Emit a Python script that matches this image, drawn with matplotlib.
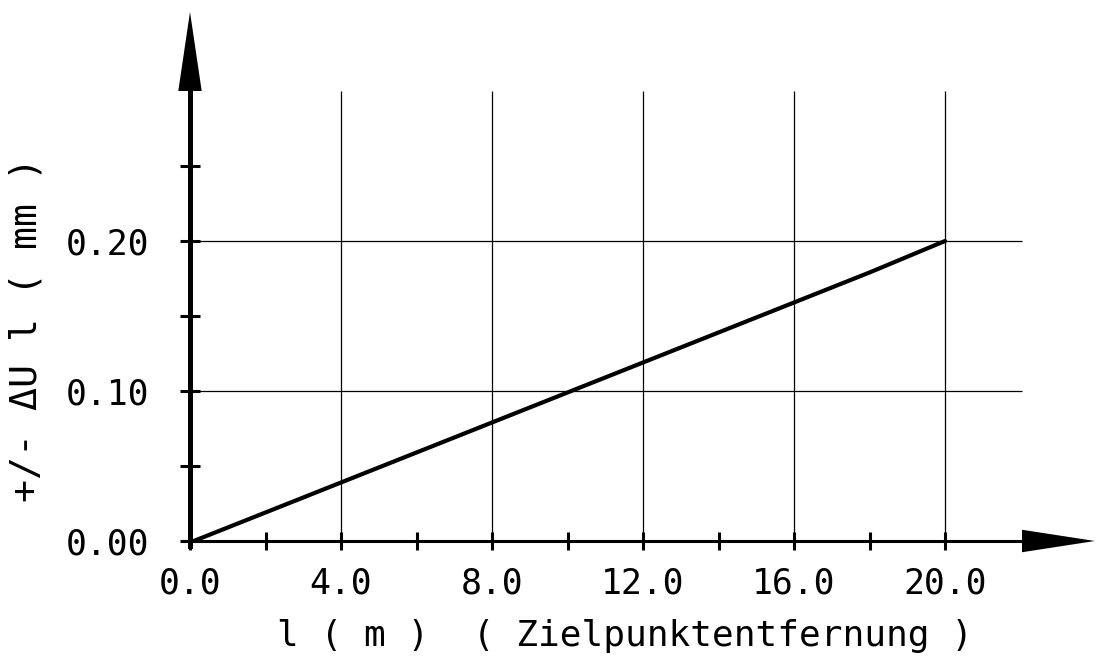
import matplotlib
matplotlib.use("Agg")
import matplotlib.pyplot as plt
from matplotlib.ticker import FixedLocator

# data
distance_m = [0.1, 2.0, 4.0, 6.0, 8.0, 10.0, 12.0, 14.0, 16.0, 18.0, 20.0]
delta_ul_mm = [0.0, 0.019, 0.039, 0.059, 0.079, 0.099, 0.119, 0.139, 0.159, 0.179, 0.200]
x_major = [0, 4, 8, 12, 16, 20]
x_labels = ["0.0", "4.0", "8.0", "12.0", "16.0", "20.0"]
y_major = [0.0, 0.10, 0.20]
y_labels = ["0.00", "0.10", "0.20"]

W, H = 1096, 660
fig = plt.figure(figsize=(W / 100, H / 100), dpi=100)

# pixel geometry
x0px, xscale = 190.0, 37.75
y0px, yscale = 541.0, 1500.0
ax_left_px, ax_bottom_px = 150.0, 560.0
ax = fig.add_axes([ax_left_px / W, (H - ax_bottom_px) / H, (W - ax_left_px) / W, ax_bottom_px / H])
ax.set_xlim((ax_left_px - x0px) / xscale, (W - x0px) / xscale)
ax.set_ylim((y0px - ax_bottom_px) / yscale, y0px / yscale)
ax.patch.set_alpha(0)

mono = "DejaVu Sans Mono"

# grid
for gy in [0.10, 0.20]:
    ax.hlines(gy, 0, 22.05, color="black", lw=0.9, zorder=1)
for gx in [4, 8, 12, 16, 20]:
    ax.vlines(gx, 0, 0.30, color="black", lw=0.9, zorder=1)

# spines as axes
for s in ["top", "right"]:
    ax.spines[s].set_visible(False)
ax.spines["left"].set_position(("data", 0))
ax.spines["bottom"].set_position(("data", 0))
ax.spines["left"].set_linewidth(3.6)
ax.spines["bottom"].set_linewidth(2.2)
ax.spines["left"].set_bounds(-0.003, 0.305)
ax.spines["bottom"].set_bounds(-0.2, 22.1)

# arrow heads
ax.fill([-0.31, 0.0, 0.31], [0.300, 0.3527, 0.300], color="black", zorder=5, lw=0)
ax.fill([22.04, 23.97, 22.04], [0.0075, 0.0, -0.0075], color="black", zorder=5, lw=0)

# ticks
ax.xaxis.set_major_locator(FixedLocator(x_major))
ax.xaxis.set_minor_locator(FixedLocator([2, 6, 10, 14, 18]))
ax.yaxis.set_major_locator(FixedLocator(y_major))
ax.yaxis.set_minor_locator(FixedLocator([0.05, 0.15, 0.25]))
ax.set_xticklabels(x_labels, fontfamily=mono, fontsize=25)
ax.set_yticklabels(y_labels, fontfamily=mono, fontsize=25)
ax.tick_params(axis="x", which="both", direction="inout", length=13, width=2.2, pad=12)
ax.tick_params(axis="y", which="both", direction="inout", length=15, width=2.2, pad=22)

# data line
ax.plot(distance_m, delta_ul_mm, color="black", lw=3.0, zorder=4, solid_capstyle="round")

# axis labels
fig.text(625 / W, 1 - 636 / H, "l ( m )  ( Zielpunktentfernung )", fontfamily=mono,
         fontsize=26, ha="center", va="center")
fig.text(27 / W, 1 - 330 / H, "+/- ΔU l ( mm )", fontfamily=mono, fontsize=27.5,
         rotation=90, ha="center", va="center")

fig.savefig("out.png", dpi=100, facecolor="white")
